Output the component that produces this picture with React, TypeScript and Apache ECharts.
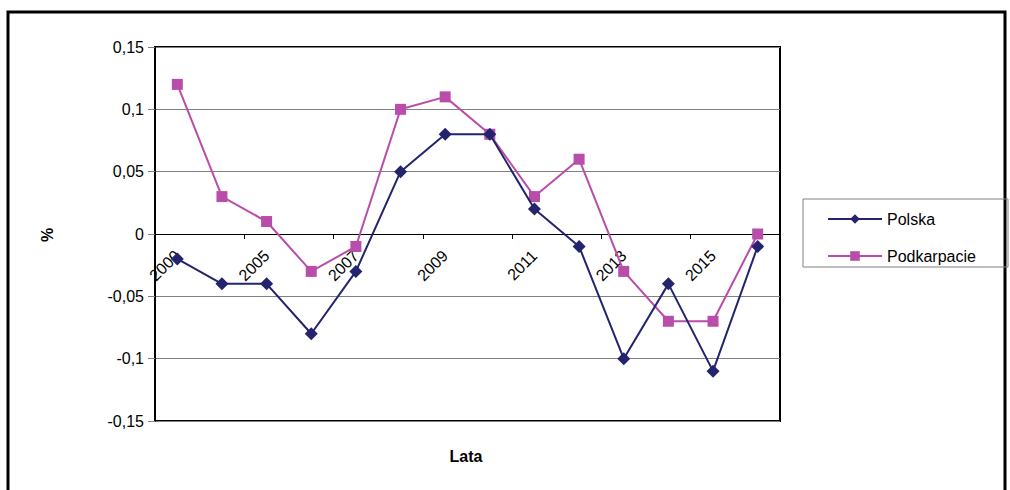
import React, { useEffect, useRef } from "react";
import * as echarts from "echarts";

const years = ["2000", "2004", "2005", "2006", "2007", "2008", "2009", "2010", "2011", "2012", "2013", "2014", "2015", "2016"];
const polska = [-0.02, -0.04, -0.04, -0.08, -0.03, 0.05, 0.08, 0.08, 0.02, -0.01, -0.1, -0.04, -0.11, -0.01];
const podkarpacie = [0.12, 0.03, 0.01, -0.03, -0.01, 0.1, 0.11, 0.08, 0.03, 0.06, -0.03, -0.07, -0.07, 0.0];

const FONT = "Liberation Sans, Arial, sans-serif";

export default function App() {
  const ref = useRef<HTMLDivElement>(null);
  useEffect(() => {
    if (!ref.current) return;
    const chart = echarts.init(ref.current, null, { renderer: "svg" });
    chart.setOption({
      animation: false,
      backgroundColor: "#fff",
      textStyle: { fontFamily: FONT },
      grid: { left: 155, top: 47, width: 625, height: 374, show: true, borderColor: "#000", borderWidth: 2, backgroundColor: "transparent" },
      graphic: [
        { type: "rect", shape: { x: 8, y: 12, width: 997, height: 500 }, style: { fill: "none", stroke: "#000", lineWidth: 3 }, silent: true },
        { type: "rect", shape: { x: 803, y: 199, width: 205, height: 68 }, style: { fill: "none", stroke: "#808080", lineWidth: 1 }, silent: true },
        { type: "text", x: 47, y: 235, rotation: Math.PI / 2, style: { text: "%", fontSize: 16, fontWeight: "bold", fontFamily: FONT, fill: "#000", textAlign: "center", textVerticalAlign: "middle" } },
        { type: "text", x: 466, y: 456, style: { text: "Lata", fontSize: 16, fontWeight: "bold", fontFamily: FONT, fill: "#000", textAlign: "center", textVerticalAlign: "middle" } },
      ],
      legend: {
        orient: "vertical",
        left: 822,
        top: 206,
        itemWidth: 54,
        itemHeight: 12,
        itemGap: 21,
        textStyle: { fontSize: 16, color: "#000", fontFamily: FONT, padding: [0, 0, 0, 0] },
        data: ["Polska", "Podkarpacie"],
      },
      xAxis: {
        type: "category",
        data: years,
        boundaryGap: true,
        position: "bottom",
        offset: -187,
        axisLine: { onZero: false, lineStyle: { color: "#000", width: 1 } },
        axisTick: { show: true, length: 5, lineStyle: { color: "#000" } },
        axisLabel: { interval: 1, rotate: 45, fontSize: 16, color: "#000", margin: 19, fontFamily: FONT },
        splitLine: { show: false },
      },
      yAxis: {
        type: "value",
        min: -0.15,
        max: 0.15,
        interval: 0.05,
        axisLine: { show: true, lineStyle: { color: "#000", width: 2 } },
        axisTick: { show: true, length: 7, lineStyle: { color: "#808080" } },
        axisLabel: {
          fontSize: 16,
          color: "#000",
          margin: 11,
          fontFamily: FONT,
          formatter: (v: number) => String(Math.round(v * 100) / 100).replace(".", ","),
        },
        splitLine: { show: true, lineStyle: { color: "#808080", width: 1 } },
      },
      series: [
        {
          name: "Polska",
          type: "line",
          data: polska,
          symbol: "diamond",
          symbolSize: 13,
          lineStyle: { color: "#23236E", width: 2 },
          itemStyle: { color: "#23236E" },
          z: 3,
        },
        {
          name: "Podkarpacie",
          type: "line",
          data: podkarpacie,
          symbol: "rect",
          symbolSize: 11,
          lineStyle: { color: "#B84DAA", width: 2 },
          itemStyle: { color: "#B84DAA" },
          z: 2,
        },
      ],
    });
    return () => chart.dispose();
  }, []);
  return <div ref={ref} style={{ position: "fixed", left: 0, top: 0, width: 1010, height: 490 }} />;
}
